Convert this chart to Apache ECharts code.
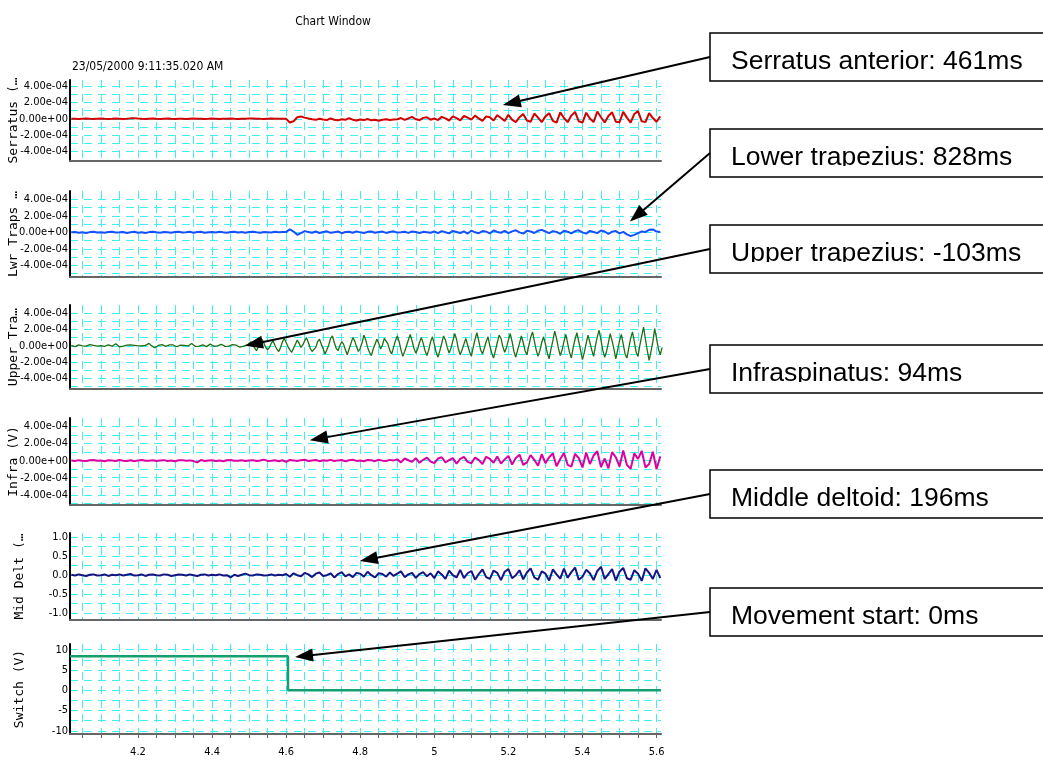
<!DOCTYPE html>
<html><head><meta charset="utf-8">
<script src="https://cdn.jsdelivr.net/npm/echarts@6/dist/echarts.min.js"></script>
<style>html,body{margin:0;padding:0;background:#fff}#c{width:1043px;height:760px}</style>
</head><body><div id="c"></div>
<script>
// ---------- DATA ----------
const T0 = 4.02, DT = 0.01;          // sample start time (s) and sample step (s)
const DT_UT = 0.005;                  // upper trapezius sample step (s)
const E4 = 1e-4;                      // EMG arrays are given in units of 1e-4 V

const serratus = [
0.02,0.00,-0.03,0.01,0.03,0.00,-0.02,0.02,0.05,0.01,
-0.02,0.00,0.03,0.02,-0.01,0.00,0.06,0.08,0.03,0.00,
-0.02,0.01,0.03,0.00,-0.02,0.02,0.04,0.01,-0.01,0.02,
0.00,-0.02,0.01,0.03,0.00,0.02,-0.01,0.00,0.03,0.01,
-0.02,0.00,0.02,0.04,0.01,-0.01,0.02,0.00,0.03,0.05,
0.02,0.00,-0.01,0.02,0.03,0.00,0.02,0.01,
0.00,-0.45,-0.30,0.20,0.28,0.15,0.05,
-0.05,-0.12,0.02,-0.08,-0.15,0.05,-0.10,-0.18,-0.05,-0.12,0.08,-0.10,-0.20,-0.08,-0.15,-0.02,-0.18,-0.12,-0.22,-0.10,-0.05,-0.15,-0.08,
-0.05,0.10,-0.12,0.05,0.25,-0.05,-0.15,0.12,0.20,-0.10,
0.05,-0.15,0.25,0.05,-0.20,0.30,0.10,-0.18,0.35,0.15,-0.10,0.40,0.05,-0.25,0.30,0.20,-0.20,0.45,0.10,-0.25,
0.50,-0.10,-0.40,0.20,0.60,-0.20,-0.35,0.65,0.15,-0.40,0.30,0.70,-0.25,-0.45,0.80,0.10,-0.40,0.40,0.85,-0.30,
-0.45,0.75,0.05,-0.40,0.90,0.20,-0.45,0.35,0.80,-0.35,-0.40,0.85,0.15,-0.45,0.60,0.95,-0.30,-0.40,0.70,0.10,
-0.35,0.30];

const lowerTraps = [
0.00,0.05,-0.05,0.02,-0.08,0.03,0.06,-0.02,0.00,-0.06,
0.04,0.08,-0.03,0.00,0.05,-0.07,0.02,0.06,-0.04,0.01,
-0.08,0.03,0.07,0.00,-0.05,0.04,0.02,-0.06,0.05,0.08,
-0.02,0.00,0.06,-0.04,0.03,0.07,-0.05,0.02,0.04,-0.03,
0.06,0.00,-0.05,0.05,0.08,-0.02,0.03,-0.06,0.04,0.07,
0.00,-0.04,0.05,0.02,-0.03,0.06,0.01,0.04,
0.05,0.35,0.10,-0.30,-0.10,0.15,0.05,
-0.05,0.10,-0.08,0.05,0.12,-0.06,0.02,0.10,-0.10,0.04,0.08,-0.05,0.12,0.00,-0.08,0.06,0.10,-0.04,0.03,0.09,
-0.07,0.05,0.12,-0.03,0.00,0.08,-0.06,0.10,0.04,-0.08,0.06,0.02,-0.05,
0.10,-0.10,0.15,0.02,-0.12,0.18,0.05,-0.08,0.12,-0.15,
0.20,0.00,-0.10,0.15,0.08,-0.12,0.22,0.05,-0.05,0.18,
-0.10,0.12,0.25,0.00,-0.15,0.18,0.10,-0.08,0.20,0.30,
0.10,-0.10,0.15,0.05,-0.18,0.20,0.08,-0.12,0.15,0.25,
0.00,-0.15,0.18,0.05,-0.10,0.22,0.10,-0.20,0.08,0.15,
-0.12,0.05,-0.25,-0.45,-0.30,-0.10,0.10,0.05,0.30,0.35,
0.10,0.05];

const upperTraps = [   // step DT_UT
0.05,-0.05,-0.10,0.02,0.10,0.05,-0.02,-0.12,-0.05,0.08,
0.15,0.20,0.05,-0.08,-0.04,0.06,0.02,-0.10,-0.06,0.08,
0.12,0.04,-0.05,0.10,0.25,0.08,-0.12,-0.18,-0.05,0.03,
0.08,0.02,0.12,0.18,0.05,-0.08,-0.02,0.10,0.00,-0.12,
0.05,0.22,0.30,0.05,-0.15,-0.25,-0.08,0.04,0.10,0.15,
-0.02,-0.08,0.05,0.12,0.25,0.10,-0.05,-0.12,0.00,0.08,
0.15,0.05,-0.10,-0.02,0.18,0.28,0.10,-0.08,-0.15,-0.05,
0.06,0.12,0.02,-0.10,0.04,0.20,0.10,-0.06,-0.12,0.00,
0.10,0.18,0.05,-0.08,-0.14,-0.04,0.08,0.15,0.22,0.08,
-0.10,-0.18,-0.12,-0.05,0.05,0.10,
0.1,0.5,0.2,-0.3,-0.6,-0.1,0.4,0.8,0.3,-0.2,-0.5,-0.2,0.3,0.6,0.0,-0.4,-0.7,-0.2,0.5,0.9,
0.4,-0.1,-0.5,-0.8,-0.3,0.2,0.7,0.3,-0.2,0.1,0.6,1.0,0.4,-0.3,-0.7,-0.9,-0.2,0.5,0.8,0.2,
-0.4,-1.0,-0.5,0.1,0.9,1.2,0.4,-0.3,-0.6,0.0,0.5,0.2,-0.5,-1.1,-0.4,0.3,1.0,0.6,-0.1,-0.7,
-0.3,0.4,1.3,0.7,-0.2,-0.8,-1.2,-0.4,0.2,0.8,0.3,-0.4,0.1,0.9,1.1,0.2,-0.6,-1.0,-0.2,0.6,
1.2,0.5,-0.5,-1.3,-0.7,0.0,0.7,1.4,0.6,-0.3,-0.9,-0.4,0.4,1.0,0.3,-0.6,-1.2,-0.5,0.5,1.1,
0.2,-0.8,-1.4,-0.6,0.3,1.2,0.7,-0.2,-0.9,-0.3,0.6,1.5,0.8,-0.4,-1.1,-0.5,0.2,0.9,0.1,-0.7,
-1.3,-0.2,0.8,1.6,0.6,-0.5,-1.0,-0.3,0.5,1.1,0.0,-0.9,-1.5,-0.6,0.4,1.3,0.9,-0.1,-0.8,-0.2,
0.7,1.5,0.5,-0.7,-1.4,-0.5,0.3,1.2,0.4,-0.6,-1.1,0.0,1.0,1.7,0.6,-0.5,-1.3,-0.6,0.4,1.1,
0.2,-0.9,-1.6,-0.4,0.6,1.8,0.9,-0.3,-1.2,-0.5,0.5,1.4,0.3,-0.8,-1.5,-0.2,0.8,1.6,0.5,-0.6,
-1.7,-0.8,0.3,1.3,0.4,-0.5,-1.3,0.0,1.1,1.9,0.7,-0.6,-1.4,-0.7,0.4,1.5,0.6,-0.4,-1.6,-0.5,
0.6,1.4,0.2,-1.0,-1.5,-0.3,0.9,1.7,0.5,-0.8,-1.3,0.1,1.2,2.3,0.8,-0.6,-1.8,-0.7,0.5,2.1,0.9,-0.4,-1.1,-0.2];

const infra = [
0.03,-0.04,0.06,0.00,-0.05,0.04,0.08,-0.02,0.01,-0.06,
0.05,0.02,-0.04,0.07,0.00,-0.03,0.05,-0.06,0.03,0.08,
-0.02,0.00,0.05,-0.05,0.02,0.06,-0.03,0.01,-0.07,0.04,
0.06,-0.02,0.03,-0.05,-0.20,0.07,-0.04,0.02,0.05,-0.03,
0.01,-0.06,0.04,0.08,-0.02,0.00,0.05,-0.04,0.03,0.06,
-0.05,0.02,0.12,-0.03,0.00,0.04,-0.06,0.05,-0.15,0.08,
0.03,-0.05,0.06,0.10,-0.04,0.02,0.08,-0.06,0.04,0.00,
0.09,-0.05,0.03,0.07,-0.08,0.05,0.10,-0.03,0.02,-0.07,
0.08,0.04,-0.06,0.10,0.00,-0.05,0.09,0.03,
0.15,-0.20,0.25,0.05,-0.15,0.30,-0.25,0.10,0.35,-0.10,
-0.30,0.25,0.40,-0.20,0.05,0.30,-0.35,0.20,0.45,-0.15,
-0.30,0.35,0.10,-0.40,0.45,0.20,-0.25,0.50,-0.35,0.15,
0.55,-0.45,0.30,0.70,-0.50,-0.20,0.65,0.10,-0.60,0.75,
-0.30,0.40,0.85,-0.65,0.20,0.90,-0.50,-0.70,0.80,0.30,
-0.80,0.95,-0.40,0.60,1.10,-0.75,0.25,-0.90,1.00,0.40,
-0.70,1.20,-0.50,-0.95,0.85,0.20,1.15,-0.80,-0.40,1.05,
-1.00,0.50];

const midDelt = [   // volts
0.01,-0.01,0.02,0.00,-0.02,0.01,0.02,-0.01,0.00,0.02,
-0.02,0.01,0.00,0.02,-0.01,0.01,0.03,-0.01,0.00,0.02,
-0.02,0.01,0.02,0.00,-0.01,0.02,0.01,-0.02,0.00,0.02,
0.01,-0.01,0.02,0.00,-0.02,0.01,0.02,-0.01,0.01,0.00,
0.02,-0.01,0.00,-0.06,0.01,-0.02,0.01,0.04,0.00,-0.01,
0.02,0.01,-0.01,0.00,0.02,-0.01,0.01,0.00,
0.03,-0.04,0.05,0.00,-0.03,0.06,0.02,-0.05,0.04,0.07,
-0.02,0.00,0.05,-0.06,0.03,0.08,-0.03,0.02,-0.05,0.06,
0.04,-0.04,0.09,0.00,-0.06,0.05,0.03,-0.04,0.07,-0.02,
0.04,0.10,-0.05,0.02,0.06,-0.07,0.03,0.08,-0.03,0.05,
-0.08,0.10,0.02,-0.10,0.12,0.00,-0.06,0.14,-0.08,0.05,
0.11,-0.12,0.03,0.15,-0.05,-0.10,0.12,0.06,-0.13,0.09,
0.16,-0.08,0.00,0.13,-0.11,0.07,0.18,-0.06,-0.12,0.10,
0.04,-0.14,0.15,0.02,-0.09,0.17,-0.07,0.08,0.20,-0.12,
-0.04,0.14,0.05,-0.13,0.11,0.22,-0.10,0.03,0.16,-0.14,
0.09,0.19,-0.08,-0.12,0.13,0.04,-0.15,0.18,0.06,-0.10,
0.14,-0.08];

const switchTimes  = [4.0165, 4.605, 4.605, 5.612];
const switchValues = [8.4, 8.4, 0, 0];

const xTickLabels   = ['4.2','4.4','4.6','4.8','5','5.2','5.4','5.6'];
const emgTickLabels = ['4.00e-04','2.00e-04','0.00e+00','-2.00e-04','-4.00e-04'];
const deltTickLabels = ['1.0','0.5','0.0','-0.5','-1.0'];
const switchTickLabels = ['10','5','0','-5','-10'];

const axisNames = ['Serratus (…','Lwr Traps …','Upper Tra…','Infra (V)','Mid Delt (…','Switch (V)'];
const chartTitle = 'Chart Window';
const timeStamp = '23/05/2000 9:11:35.020 AM';

const annotations = [
  {text:'Serratus anterior: 461ms', panel:0, t:5.185, v:1.7e-4},
  {text:'Lower trapezius: 828ms',   panel:1, t:5.528, v:1.3e-4},
  {text:'Upper trapezius: -103ms',  panel:2, t:4.489, v:0.0},
  {text:'Infraspinatus: 94ms',      panel:3, t:4.664, v:2.4e-4},
  {text:'Middle deltoid: 196ms',    panel:4, t:4.799, v:0.37},
  {text:'Movement start: 0ms',      panel:5, t:4.624, v:8.2}
];

// ---------- LAYOUT / STYLE ----------
const CFONT = '"Liberation Sans Narrow","DejaVu Sans Condensed","Arial Narrow",sans-serif';
const CYAN = '#40eef4';
const XMIN = 4.0165, XMAX = 5.612;
const panels = [
  {top:80,  height:81, min:-5.15e-4, max:4.75e-4, step:1e-4, labels:emgTickLabels, gap:50, color:'#d20000', width:2},
  {top:191, height:86, min:-5.4e-4,  max:5.0e-4,  step:1e-4, labels:emgTickLabels, gap:50, color:'#1450ff', width:2},
  {top:305, height:84, min:-5.3e-4,  max:5.0e-4,  step:1e-4, labels:emgTickLabels, gap:50, color:'#1e6e14', width:1.3},
  {top:418, height:87, min:-5.2e-4,  max:5.0e-4,  step:1e-4, labels:emgTickLabels, gap:50, color:'#dc00a0', width:2},
  {top:533, height:87, min:-1.18,    max:1.11,    step:0.25, labels:deltTickLabels, gap:44, color:'#141482', width:2},
  {top:644, height:90, min:-10.8,    max:11.4,    step:2.5,  labels:switchTickLabels, gap:44, color:'#14a06e', width:2.5}
];
const boxTops = [33, 129, 225, 345, 470, 588];

function expLabel(v){
  if (Math.abs(v) < 1e-12) return '0.00e+00';
  return v.toExponential(2).replace(/e([+-])(\d+)$/, (m, sg, d) => 'e' + sg + d.padStart(2,'0'));
}
function makeFmt(p, idx){
  return function(v){
    const k = Math.round(v / p.step);
    if (Math.abs(v - k*p.step) > p.step*1e-3) return '';
    const val = k*p.step;
    let s;
    if (idx < 4) s = expLabel(val);
    else if (idx === 4) s = (Math.abs(val)<1e-9?0:val).toFixed(1);
    else s = String(Math.abs(val)<1e-9?0:val);
    return p.labels.includes(s) ? s : '';
  };
}
function toSeries(arr, scale, step){
  return arr.map((v,i)=>[+(T0 + i*step).toFixed(4), v*scale]);
}
const seriesData = [
  toSeries(serratus, E4, DT), toSeries(lowerTraps, E4, DT), toSeries(upperTraps, E4, DT_UT),
  toSeries(infra, E4, DT), toSeries(midDelt, 1, DT),
  switchTimes.map((t,i)=>[t, switchValues[i]])
];

const grids = [], xAxes = [], yAxes = [], series = [];
panels.forEach((p,i)=>{
  grids.push({left:70, right:382, top:p.top, height:p.height, containLabel:false, outerBoundsMode:'none'});
  xAxes.push({
    type:'value', gridIndex:i, min:XMIN, max:XMAX, minInterval:0.05, maxInterval:0.05, splitNumber:32,
    axisLine:{show:true, onZero:false, lineStyle:{color:'#666', width:2}},
    axisTick:{show:i===5, length:4, lineStyle:{color:'#666', width:1}},
    axisLabel:{show:i===5, margin:13, color:'#000', fontSize:11, fontFamily:CFONT,
      showMinLabel:false, showMaxLabel:false,
      formatter:v=>{const s=String(+v.toFixed(2)); return xTickLabels.includes(s)?s:'';}},
    splitLine:{show:true, showMinLine:false, showMaxLine:false, lineStyle:{color:CYAN, width:1, type:[8,6]}}
  });
  yAxes.push({
    type:'value', gridIndex:i, min:p.min, max:p.max, minInterval:p.step, maxInterval:p.step,
    splitNumber:Math.round((p.max-p.min)/p.step),
    name:axisNames[i], nameLocation:'middle', nameGap:p.gap, nameMoveOverlap:false,
    nameTextStyle:{fontFamily:'"DejaVu Sans Mono",monospace', fontSize:13, color:'#000'},
    axisLine:{show:true, onZero:false, lineStyle:{color:'#000', width:2}},
    axisTick:{show:false},
    axisLabel:{margin:2, color:'#000', fontSize:11, fontFamily:CFONT, showMinLabel:false, showMaxLabel:false,
      formatter:makeFmt(p,i)},
    splitLine:{show:true, showMinLine:false, showMaxLine:false, lineStyle:{color:CYAN, width:1, type:[8,6]}}
  });
  series.push({type:'line', xAxisIndex:i, yAxisIndex:i, data:seriesData[i], symbol:'none', showSymbol:false,
    silent:true, lineStyle:{color:p.color, width:p.width}});
});

const chart = echarts.init(document.getElementById('c'), null, {renderer:'canvas'});
chart.setOption({animation:false, backgroundColor:'#fff', grid:grids, xAxis:xAxes, yAxis:yAxes, series:series});

// ---------- ANNOTATIONS ----------
const g = [
  {type:'text', z:10, style:{text:chartTitle, x:333, y:22, align:'center', verticalAlign:'middle', fill:'#000', fontSize:12, fontFamily:CFONT}},
  {type:'text', z:10, style:{text:timeStamp, x:72, y:67, align:'left', verticalAlign:'middle', fill:'#000', fontSize:12, fontFamily:CFONT}}
];
annotations.forEach((a,k)=>{
  const top = boxTops[k];
  const tip = chart.convertToPixel({gridIndex:a.panel}, [a.t, a.v]);
  const tail = [710, top + 24];
  const dx = tip[0]-tail[0], dy = tip[1]-tail[1], L = Math.hypot(dx,dy);
  const ux = dx/L, uy = dy/L, HL = 18, HW = 6.5;
  const bx = tip[0]-ux*HL, by = tip[1]-uy*HL;
  g.push({type:'rect', z:20, shape:{x:710, y:top, width:345, height:48}, style:{fill:'#fff', stroke:'#000', lineWidth:1.5}});
  g.push({type:'text', z:21, style:{text:a.text, x:731, y:top+28.5, align:'left', verticalAlign:'middle', fill:'#000', fontSize:26.5, fontFamily:'"Liberation Sans",Arial,sans-serif'}});
  g.push({type:'rect', z:22, shape:{x:711, y:top+37, width:340, height:10}, style:{fill:'#fff'}});
  g.push({type:'line', z:23, shape:{x1:tail[0], y1:tail[1], x2:bx+ux*2, y2:by+uy*2}, style:{stroke:'#000', lineWidth:2}});
  g.push({type:'polygon', z:23, shape:{points:[[tip[0],tip[1]],[bx-uy*HW, by+ux*HW],[bx+uy*HW, by-ux*HW]]}, style:{fill:'#000'}});
});
chart.setOption({graphic:g});
</script></body></html>
